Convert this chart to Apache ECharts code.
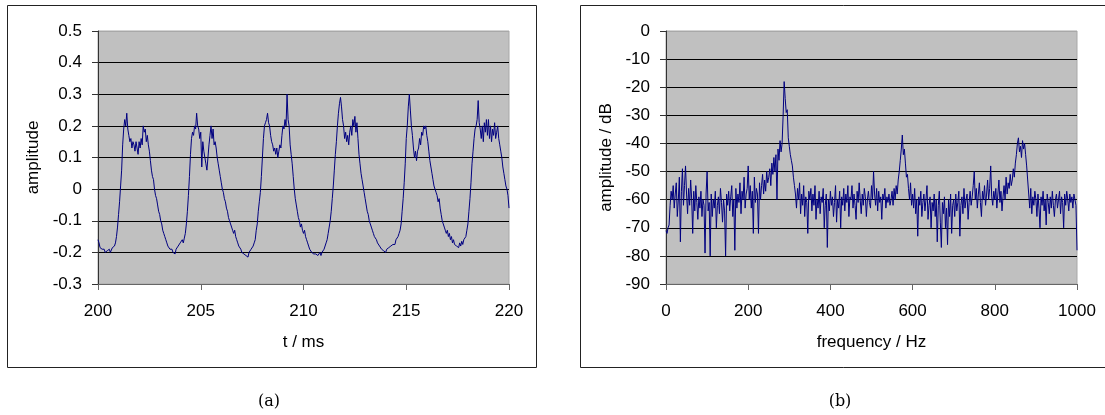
<!DOCTYPE html>
<html>
<head>
<meta charset="utf-8">
<script src="https://cdn.jsdelivr.net/npm/echarts@6/dist/echarts.min.js"></script>
<style>
html,body{margin:0;padding:0;background:#fff;}
#c{width:1105px;height:415px;}
</style>
</head>
<body>
<div id="c"></div>
<script>
// ---- Data: (a) time signal, sampled every 0.05 ms from 200 ms ----
var timeStart = 200;
var timeStep = 0.05;
var amplitude = [
-0.16,-0.17,-0.185,-0.18,-0.19,-0.195,-0.19,-0.2,-0.205,-0.195,-0.2,-0.19,-0.2,-0.195,-0.185,-0.19,-0.18,-0.17,-0.15,-0.12,
-0.08,-0.04,0.01,0.06,0.14,0.19,0.22,0.2,0.24,0.19,0.17,0.15,0.16,0.13,0.15,0.14,0.12,0.15,0.13,0.11,
0.15,0.13,0.16,0.14,0.2,0.18,0.19,0.15,0.17,0.14,0.12,0.09,0.06,0.04,0.03,0.0,-0.02,-0.03,-0.05,-0.07,
-0.08,-0.1,-0.11,-0.13,-0.14,-0.15,-0.16,-0.17,-0.18,-0.175,-0.19,-0.185,-0.19,-0.2,-0.195,-0.205,-0.19,-0.195,-0.18,-0.185,
-0.17,-0.175,-0.16,-0.17,-0.155,-0.14,-0.11,-0.07,-0.02,0.04,0.11,0.16,0.18,0.17,0.2,0.19,0.24,0.2,0.19,0.16,
0.18,0.07,0.15,0.12,0.1,0.08,0.06,0.1,0.14,0.17,0.2,0.16,0.19,0.14,0.15,0.13,0.1,0.08,0.06,0.04,
0.02,0.0,-0.01,-0.03,-0.04,-0.06,-0.07,-0.09,-0.1,-0.11,-0.12,-0.13,-0.14,-0.13,-0.15,-0.16,-0.17,-0.18,-0.185,-0.19,
-0.2,-0.195,-0.205,-0.2,-0.21,-0.205,-0.215,-0.2,-0.205,-0.19,-0.195,-0.18,-0.17,-0.16,-0.13,-0.11,-0.07,-0.04,-0.01,0.04,
0.1,0.16,0.2,0.21,0.22,0.24,0.21,0.2,0.17,0.15,0.14,0.12,0.13,0.11,0.13,0.1,0.12,0.14,0.13,0.17,
0.2,0.19,0.22,0.2,0.3,0.22,0.2,0.14,0.11,0.08,0.04,0.0,-0.03,-0.05,-0.07,-0.09,-0.1,-0.12,-0.11,-0.13,
-0.14,-0.13,-0.15,-0.16,-0.17,-0.18,-0.19,-0.195,-0.2,-0.2,-0.205,-0.2,-0.205,-0.2,-0.21,-0.205,-0.2,-0.21,-0.2,-0.195,
-0.19,-0.185,-0.17,-0.16,-0.14,-0.12,-0.1,-0.07,-0.03,0.01,0.06,0.11,0.15,0.2,0.24,0.27,0.29,0.26,0.22,0.2,
0.16,0.18,0.15,0.17,0.14,0.18,0.2,0.17,0.22,0.2,0.23,0.18,0.21,0.16,0.11,0.08,0.05,0.03,0.01,-0.01,
-0.03,-0.05,-0.07,-0.08,-0.1,-0.11,-0.12,-0.13,-0.14,-0.15,-0.155,-0.16,-0.17,-0.175,-0.18,-0.185,-0.19,-0.185,-0.195,-0.19,
-0.2,-0.19,-0.195,-0.185,-0.19,-0.18,-0.185,-0.175,-0.17,-0.175,-0.16,-0.165,-0.15,-0.14,-0.13,-0.11,-0.07,-0.03,0.02,0.08,
0.16,0.2,0.26,0.3,0.25,0.2,0.17,0.13,0.1,0.12,0.09,0.12,0.13,0.16,0.14,0.18,0.17,0.2,0.19,0.2,
0.17,0.15,0.12,0.09,0.07,0.05,0.03,0.01,0.0,-0.01,-0.02,-0.04,-0.03,-0.06,-0.08,-0.1,-0.11,-0.12,-0.13,-0.14,
-0.13,-0.15,-0.14,-0.16,-0.15,-0.17,-0.16,-0.175,-0.17,-0.18,-0.175,-0.185,-0.17,-0.18,-0.165,-0.175,-0.16,-0.165,-0.15,-0.13,
-0.11,-0.07,-0.03,0.02,0.08,0.12,0.16,0.19,0.2,0.22,0.28,0.21,0.19,0.16,0.2,0.15,0.21,0.18,0.22,0.17,
0.22,0.16,0.2,0.15,0.19,0.17,0.21,0.16,0.18,0.2,0.16,0.14,0.12,0.1,0.07,0.05,0.03,0.01,0.0,-0.02,
-0.06
];

// ---- Data: (b) spectrum, every 2.5 Hz from 0 Hz ----
var freqStart = 0;
var freqStep = 2.5;
var spectrumDb = [
-71,-72,-70,-69,-62,-57,-60,-55,-63,-58,-54,-66,-60,-52,-75,-57,-49,-62,-55,-48,
-58,-65,-56,-62,-53,-60,-72,-57,-64,-55,-61,-67,-59,-63,-57,-66,-60,-62,-79,-58,
-50,-64,-61,-80,-58,-66,-60,-63,-57,-70,-62,-59,-65,-56,-61,-68,-60,-64,-80,-58,
-62,-57,-64,-59,-55,-66,-60,-78,-56,-63,-58,-61,-54,-65,-57,-60,-52,-63,-58,-56,
-48,-60,-55,-63,-57,-72,-52,-61,-56,-58,-72,-54,-60,-55,-51,-58,-53,-57,-50,-54,
-52,-49,-55,-47,-51,-45,-50,-44,-60,-42,-46,-39,-43,-40,-30,-18,-24,-29,-28,-38,
-41,-44,-46,-48,-52,-55,-58,-63,-56,-60,-54,-65,-58,-62,-55,-66,-59,-61,-72,-57,
-60,-56,-64,-58,-62,-55,-67,-60,-63,-57,-65,-59,-61,-56,-70,-62,-58,-77,-60,-64,
-57,-62,-59,-66,-61,-55,-68,-60,-63,-57,-70,-59,-62,-56,-64,-58,-61,-55,-66,-59,
-60,-55,-63,-58,-62,-67,-57,-61,-54,-60,-65,-58,-62,-56,-59,-66,-60,-57,-61,-63,
-55,-60,-50,-58,-62,-56,-64,-57,-61,-59,-67,-58,-60,-56,-63,-59,-61,-58,-62,-60,
-57,-62,-56,-60,-55,-58,-53,-50,-46,-42,-37,-44,-42,-47,-52,-51,-56,-60,-54,-62,
-58,-63,-56,-65,-60,-73,-59,-62,-57,-66,-61,-58,-64,-60,-55,-67,-62,-59,-70,-61,
-64,-58,-66,-60,-75,-62,-57,-68,-77,-61,-65,-59,-70,-63,-76,-60,-66,-58,-72,-62,
-60,-66,-58,-64,-61,-57,-73,-62,-59,-65,-56,-63,-60,-58,-67,-61,-57,-62,-59,-55,
-50,-60,-56,-63,-58,-54,-61,-66,-57,-60,-55,-62,-58,-53,-60,-56,-48,-59,-62,-57,
-60,-56,-63,-58,-53,-61,-57,-64,-59,-55,-60,-52,-58,-54,-56,-51,-55,-53,-49,-52,
-47,-44,-40,-38,-43,-41,-45,-39,-42,-40,-44,-48,-53,-58,-63,-56,-65,-59,-62,-57,
-60,-66,-58,-63,-70,-59,-62,-57,-64,-60,-69,-58,-61,-65,-59,-63,-57,-62,-66,-60,
-58,-63,-60,-57,-65,-59,-61,-70,-58,-62,-57,-60,-64,-58,-61,-59,-63,-58,-60,-62,
-78
];

// Axis tick settings
var ampTicks = {min: -0.3, max: 0.5, interval: 0.1};
var timeTicks = {min: 200, max: 220, interval: 5};
var dbTicks = {min: -90, max: 0, interval: 10};
var freqTicks = {min: 0, max: 1000, interval: 200};

var seriesA = amplitude.map(function (v, i) { return [+(timeStart + i * timeStep).toFixed(2), v]; });
var seriesB = spectrumDb.map(function (v, i) { return [freqStart + i * freqStep, v]; });

var FONT = 'Liberation Sans';
var FS = 17;

function plainNum(v) { return String(+v.toFixed(6)); }

function gridLineColors(n) {
  var arr = [];
  for (var i = 0; i < n; i++) arr.push(i === n - 1 ? '#a8a8a8' : '#000000');
  return arr;
}

function xAxisCfg(idx, ticks, name) {
  return {
    type: 'value', gridIndex: idx, min: ticks.min, max: ticks.max, interval: ticks.interval,
    name: name, nameLocation: 'middle', nameGap: 50,
    nameTextStyle: {fontFamily: FONT, fontSize: FS, color: '#000'},
    axisLine: {show: true, onZero: false, lineStyle: {color: '#666', width: 1}},
    axisTick: {show: true, inside: false, length: 6, lineStyle: {color: '#666'}},
    axisLabel: {fontFamily: FONT, fontSize: FS, color: '#000', margin: 19, formatter: plainNum},
    splitLine: {show: false}
  };
}
function yAxisCfg(idx, ticks, name, gap) {
  var n = Math.round((ticks.max - ticks.min) / ticks.interval) + 1;
  return {
    type: 'value', gridIndex: idx, min: ticks.min, max: ticks.max, interval: ticks.interval,
    name: name, nameLocation: 'middle', nameGap: gap, nameRotate: 90,
    nameTextStyle: {fontFamily: FONT, fontSize: FS, color: '#000'},
    axisLine: {show: true, onZero: false, lineStyle: {color: '#333', width: 1}},
    axisTick: {show: true, inside: false, length: 6, lineStyle: {color: '#333'}},
    axisLabel: {fontFamily: FONT, fontSize: FS, color: '#000', margin: 16, formatter: plainNum},
    splitLine: {show: true, lineStyle: {color: gridLineColors(n), width: 1}}
  };
}

var chart = echarts.init(document.getElementById('c'), null, {renderer: 'canvas'});
chart.setOption({
  animation: false,
  backgroundColor: '#ffffff',
  graphic: [
    {type: 'rect', shape: {x: 7.5, y: 5.5, width: 529, height: 362}, style: {fill: null, stroke: '#222', lineWidth: 1}, z: -10},
    {type: 'rect', shape: {x: 580.5, y: 5.5, width: 540, height: 362}, style: {fill: null, stroke: '#222', lineWidth: 1}, z: -10},
    {type: 'text', x: 269, y: 402, style: {text: '(a)', fontFamily: 'DejaVu Serif', fontSize: 16, fill: '#000', textAlign: 'center', textVerticalAlign: 'middle'}},
    {type: 'text', x: 840, y: 402, style: {text: '(b)', fontFamily: 'DejaVu Serif', fontSize: 16, fill: '#000', textAlign: 'center', textVerticalAlign: 'middle'}}
  ],
  grid: [
    {left: 98, top: 31, width: 411, height: 253, show: true, backgroundColor: '#c0c0c0', borderColor: '#a8a8a8', borderWidth: 1, containLabel: false},
    {left: 666, top: 31, width: 411, height: 253, show: true, backgroundColor: '#c0c0c0', borderColor: '#a8a8a8', borderWidth: 1, containLabel: false}
  ],
  xAxis: [
    xAxisCfg(0, timeTicks, 't / ms'),
    xAxisCfg(1, freqTicks, 'frequency / Hz')
  ],
  yAxis: [
    yAxisCfg(0, ampTicks, 'amplitude', 56),
    yAxisCfg(1, dbTicks, 'amplitude / dB', 51)
  ],
  series: [
    {type: 'line', xAxisIndex: 0, yAxisIndex: 0, data: seriesA, showSymbol: false, symbol: 'none',
     lineStyle: {color: '#000080', width: 1}, itemStyle: {color: '#000080'}, sampling: null},
    {type: 'line', xAxisIndex: 1, yAxisIndex: 1, data: seriesB, showSymbol: false, symbol: 'none',
     lineStyle: {color: '#000080', width: 1}, itemStyle: {color: '#000080'}, sampling: null}
  ]
});
</script>
</body>
</html>
